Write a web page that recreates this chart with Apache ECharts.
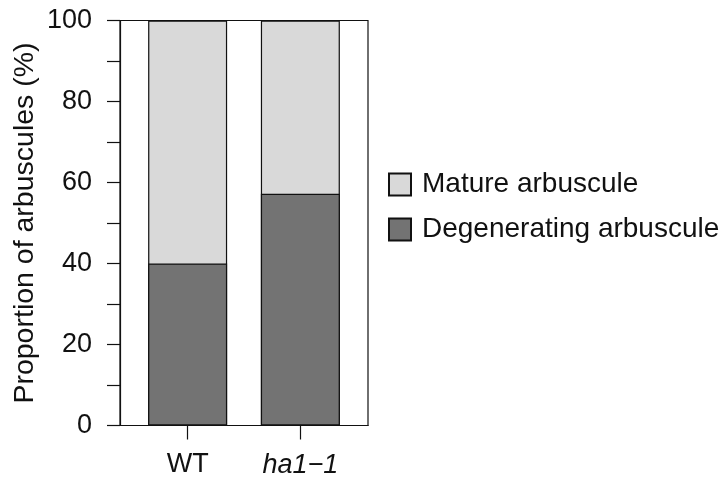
<!DOCTYPE html>
<html><head><meta charset="utf-8">
<script src="https://cdn.jsdelivr.net/npm/echarts@6/dist/echarts.min.js"></script>
<style>html,body{margin:0;padding:0;background:#fff}#c{width:722px;height:481px}</style>
</head><body><div id="c"></div>
<script>
const categories = ['WT', 'ha1\u22121'];
const categoryPos = [1, 2];
const degenerating = [40, 57.2];
const mature = [60, 42.8];
const yTicks = [0, 20, 40, 60, 80, 100];

const chart = echarts.init(document.getElementById('c'));
const font = 'Liberation Sans, Arial, Helvetica, sans-serif';
const ink = '#111';
chart.setOption({
  animation: false,
  grid: { left: 120, right: 354, top: 20.5, bottom: 55.5, show: true, borderColor: ink, borderWidth: 1.2, backgroundColor: 'transparent' },
  xAxis: {
    type: 'value', min: 0.4, max: 2.6,
    axisLine: { show: true, lineStyle: { color: ink, width: 1.2 } },
    splitLine: { show: false },
    axisTick: { show: true, length: 14, customValues: categoryPos, lineStyle: { color: ink, width: 1.2 } },
    axisLabel: {
      customValues: categoryPos, margin: 26,
      fontFamily: font, fontSize: 27, color: ink,
      formatter: v => {
        const i = categoryPos.indexOf(Math.round(v));
        if (i < 0) return '';
        return i === 1 ? '{it|' + categories[i] + '}' : categories[i];
      },
      rich: { it: { fontStyle: 'italic', fontFamily: font, fontSize: 27, color: ink } }
    }
  },
  yAxis: {
    type: 'value', min: 0, max: 100, interval: 10,
    name: 'Proportion of arbuscules (%)', nameLocation: 'middle', nameGap: 80,
    nameTextStyle: { fontFamily: font, fontSize: 28.5, color: ink },
    axisLine: { show: true, lineStyle: { color: ink, width: 1.2 } },
    axisTick: { show: true, length: 13, lineStyle: { color: ink, width: 1.2 } },
    splitLine: { show: false },
    axisLabel: {
      margin: 28, fontFamily: font, fontSize: 27, color: ink,
      formatter: v => yTicks.includes(v) ? String(v) : ''
    }
  },
  legend: {
    orient: 'vertical', left: 383, top: 165.5,
    itemWidth: 22, itemHeight: 22, itemGap: 17, icon: 'rect',
    data: ['Mature arbuscule', 'Degenerating arbuscule'],
    textStyle: { fontFamily: font, fontSize: 28, lineHeight: 28, color: ink, padding: [0, 0, 0, 6] }
  },
  series: [
    {
      name: 'Mature arbuscule', type: 'bar', barWidth: 79, barGap: '-100%',
      data: categoryPos.map((p, i) => [p, degenerating[i] + mature[i]]),
      itemStyle: { color: '#d9d9d9', borderColor: ink, borderWidth: 1.2 }
    },
    {
      name: 'Degenerating arbuscule', type: 'bar', barWidth: 79, barGap: '-100%',
      data: categoryPos.map((p, i) => [p, degenerating[i]]),
      itemStyle: { color: '#737373', borderColor: ink, borderWidth: 1.2 }
    }
  ]
});
</script></body></html>
